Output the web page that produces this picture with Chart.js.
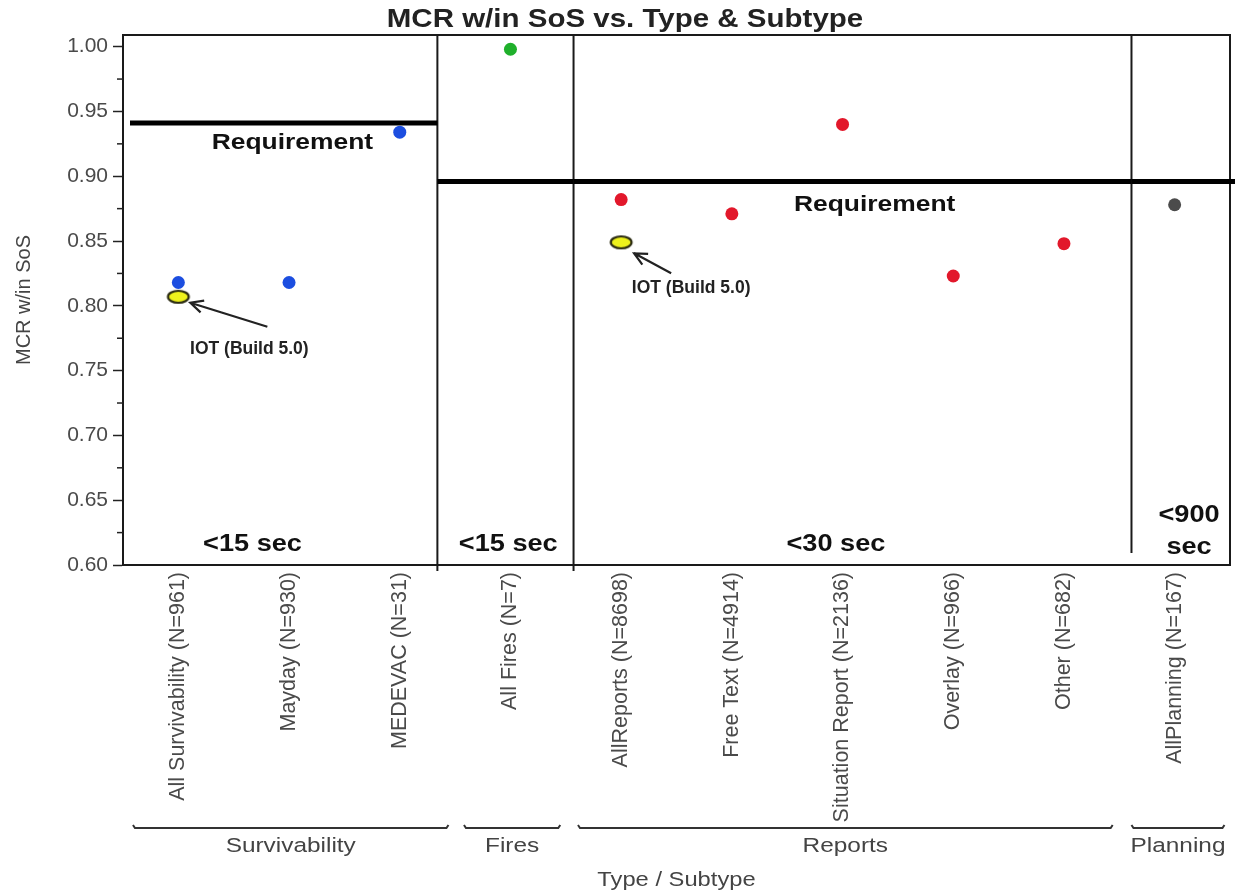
<!DOCTYPE html>
<html>
<head>
<meta charset="utf-8">
<title>MCR w/in SoS vs. Type &amp; Subtype</title>
<script src="https://cdn.jsdelivr.net/npm/chart.js@4.4.1/dist/chart.umd.min.js"></script>
<style>
  html, body { margin: 0; padding: 0; background: #fff; }
  #wrap { width: 1235px; height: 894px; position: relative; }
</style>
</head>
<body>
<div id="wrap"><canvas id="mcrChart"></canvas></div>
<script>
// --- Data ---
const subtypes = [
    'All Survivability (N=961)', 'Mayday (N=930)', 'MEDEVAC (N=31)',
    'All Fires (N=7)',
    'AllReports (N=8698)', 'Free Text (N=4914)', 'Situation Report (N=2136)', 'Overlay (N=966)', 'Other (N=682)',
    'AllPlanning (N=167)'
];
const subtypeType = [
    'Survivability', 'Survivability', 'Survivability',
    'Fires',
    'Reports', 'Reports', 'Reports', 'Reports', 'Reports',
    'Planning'
];
const mcrValues = [0.818, 0.818, 0.934, 0.998, 0.882, 0.871, 0.940, 0.823, 0.848, 0.878];
const iotValues = [0.807, null, null, null, 0.849, null, null, null, null, null];
const types = ['Survivability', 'Fires', 'Reports', 'Planning'];
const typeRequirement = [0.941, 0.896, 0.896, 0.896];
const typeTimeLimit = ['<15 sec', '<15 sec', '<30 sec', '<900 sec'];
const yTickValues = [0.60, 0.65, 0.70, 0.75, 0.80, 0.85, 0.90, 0.95, 1.00];

// --- Look ---
const FONT = '"Liberation Sans", Arial, sans-serif';
const typeColors = ['#1c4ee0', '#1fb02b', '#e2182b', '#4b4b4b'];
// block edges on the category axis (fractional index)
const typeBounds = [[-0.5, 2.34], [2.34, 3.57], [3.57, 8.61], [8.61, 9.5]];
const bracketSpans = [[-0.41, 2.44], [2.58, 3.45], [3.61, 8.44], [8.61, 9.45]];
const timeLabelAt = [0.67, 2.98, 5.94, 9.13];

// yellow ring used for the IOT markers
const iotMarker = document.createElement('canvas');
iotMarker.width = 26;
iotMarker.height = 18;
(() => {
    const m = iotMarker.getContext('2d');
    m.beginPath();
    m.ellipse(13, 9, 10.4, 6, 0, 0, Math.PI * 2);
    m.fillStyle = '#eef21c';
    m.fill();
    m.lineWidth = 2.2;
    m.strokeStyle = '#2a2a10';
    m.stroke();
})();

function stretchText(ctx, text, x, y, size, bold, color, sx) {
    ctx.save();
    ctx.font = `${bold ? 'bold ' : ''}${size}px ${FONT}`;
    ctx.fillStyle = color;
    ctx.textAlign = 'center';
    ctx.textBaseline = 'middle';
    ctx.translate(x, y);
    ctx.scale(sx, 1);
    ctx.fillText(text, 0, 0);
    ctx.restore();
}

function arrow(ctx, x1, y1, x2, y2) {
    const a = Math.atan2(y2 - y1, x2 - x1);
    const len = 14;
    ctx.beginPath();
    ctx.moveTo(x1, y1);
    ctx.lineTo(x2, y2);
    ctx.moveTo(x2 - len * Math.cos(a - 0.45), y2 - len * Math.sin(a - 0.45));
    ctx.lineTo(x2, y2);
    ctx.lineTo(x2 - len * Math.cos(a + 0.45), y2 - len * Math.sin(a + 0.45));
    ctx.stroke();
}

// --- Overlay: frame, block separators, requirement lines, notes ---
const overlayPlugin = {
    id: 'mcrOverlay',
    beforeDatasetsDraw(chart) {
        const { ctx, chartArea: a, scales: { x, y } } = chart;
        ctx.save();
        ctx.strokeStyle = '#1a1a1a';
        ctx.lineWidth = 2;
        ctx.beginPath();
        ctx.moveTo(a.left, a.top);
        ctx.lineTo(a.right, a.top);
        ctx.lineTo(a.right, a.bottom);
        ctx.stroke();

        // separators between the type blocks
        typeBounds.slice(0, -1).forEach(([, end], k) => {
            const px = x.getPixelForValue(end);
            const last = k === typeBounds.length - 2;
            ctx.beginPath();
            ctx.moveTo(px, a.top);
            ctx.lineTo(px, last ? a.bottom - 12 : a.bottom + 6);
            ctx.stroke();
        });

        // requirement levels
        ctx.lineWidth = 5;
        ctx.strokeStyle = '#000';
        typeBounds.forEach(([start, end], k) => {
            const py = y.getPixelForValue(typeRequirement[k]);
            const x0 = k === 0 ? a.left + 7 : x.getPixelForValue(start);
            const x1 = k === typeBounds.length - 1 ? chart.width : x.getPixelForValue(end);
            ctx.beginPath();
            ctx.moveTo(x0, py);
            ctx.lineTo(x1, py);
            ctx.stroke();
        });
        ctx.restore();
    },
    afterDraw(chart) {
        const { ctx, chartArea: a, scales: { x, y } } = chart;
        ctx.save();

        // minor y ticks between the labelled ones
        ctx.strokeStyle = '#222';
        ctx.lineWidth = 1.5;
        y.ticks.slice(1).forEach((t, i) => {
            const py = y.getPixelForValue((t.value + y.ticks[i].value) / 2);
            ctx.beginPath();
            ctx.moveTo(a.left - 6, py);
            ctx.lineTo(a.left, py);
            ctx.stroke();
        });

        // title
        stretchText(ctx, 'MCR w/in SoS vs. Type & Subtype', 625, 20, 25, true, '#222', 1.18);

        // requirement captions
        stretchText(ctx, 'Requirement', x.getPixelForValue(1.03), y.getPixelForValue(typeRequirement[0]) + 20, 22, true, '#111', 1.2);
        stretchText(ctx, 'Requirement', x.getPixelForValue(6.29), y.getPixelForValue(typeRequirement[2]) + 24, 22, true, '#111', 1.2);

        // time limits, wrapped when the block is too narrow
        typeTimeLimit.forEach((txt, k) => {
            const cx = x.getPixelForValue(timeLabelAt[k]);
            const blockW = Math.min(x.getPixelForValue(typeBounds[k][1]), a.right) - Math.max(x.getPixelForValue(typeBounds[k][0]), a.left);
            ctx.font = `bold 23px ${FONT}`;
            if (ctx.measureText(txt).width * 1.18 > blockW - 10) {
                const words = txt.split(' ');
                stretchText(ctx, words[0], cx, a.bottom - 49, 23, true, '#111', 1.18);
                stretchText(ctx, words[1], cx, a.bottom - 17, 23, true, '#111', 1.18);
            } else {
                stretchText(ctx, txt, cx, a.bottom - 20, 23, true, '#111', 1.18);
            }
        });

        // IOT notes with arrows
        const iotMeta = chart.getDatasetMeta(chart.data.datasets.length - 1);
        const notes = [
            { tip: [12, 6], tail: [89, 30], text: [71, 52] },
            { tip: [13, 11], tail: [50, 31], text: [70, 46] }
        ];
        let n = 0;
        iotMeta.data.forEach((pt, i) => {
            if (iotValues[i] == null || !notes[n]) return;
            const o = notes[n++];
            ctx.strokeStyle = '#222';
            ctx.lineWidth = 2.2;
            arrow(ctx, pt.x + o.tail[0], pt.y + o.tail[1], pt.x + o.tip[0], pt.y + o.tip[1]);
            stretchText(ctx, 'IOT (Build 5.0)', pt.x + o.text[0], pt.y + o.text[1], 17.5, true, '#222', 1.0);
        });

        // type brackets under the subtype labels
        ctx.strokeStyle = '#333';
        ctx.lineWidth = 2;
        const by = a.bottom + 263;
        bracketSpans.forEach(([s, e], k) => {
            const x0 = x.getPixelForValue(s);
            const x1 = x.getPixelForValue(e);
            ctx.beginPath();
            ctx.moveTo(x0, by - 3);
            ctx.lineTo(x0 + 2, by);
            ctx.lineTo(x1 - 2, by);
            ctx.lineTo(x1, by - 3);
            ctx.stroke();
            stretchText(ctx, types[k], (x0 + x1) / 2, by + 18, 20.5, false, '#444', 1.19);
        });

        stretchText(ctx, 'Type / Subtype', (a.left + a.right) / 2, chart.height - 14, 21, false, '#444', 1.13);
        ctx.restore();
    }
};

const pointSets = types.map((t, k) => ({
    label: t,
    data: mcrValues.map((v, i) => (subtypeType[i] === t ? v : null)),
    showLine: false,
    pointRadius: 6.5,
    pointHoverRadius: 6.5,
    pointBackgroundColor: typeColors[k],
    pointBorderColor: typeColors[k],
    pointBorderWidth: 0
}));
pointSets.push({
    label: 'IOT (Build 5.0)',
    data: iotValues,
    showLine: false,
    pointStyle: iotMarker,
    pointRadius: 10,
    pointHoverRadius: 10
});

new Chart(document.getElementById('mcrChart'), {
    type: 'line',
    data: { labels: subtypes, datasets: pointSets },
    options: {
        responsive: true,
        maintainAspectRatio: false,
        animation: false,
        devicePixelRatio: 1,
        layout: { autoPadding: false, padding: { top: 35, right: 5, left: 0, bottom: 0 } },
        plugins: {
            legend: { display: false },
            tooltip: { enabled: false },
            title: { display: false }
        },
        scales: {
            x: {
                type: 'category',
                offset: true,
                grid: { display: false, drawTicks: false },
                border: { display: true, color: '#1a1a1a', width: 2 },
                ticks: {
                    autoSkip: false, minRotation: 90, maxRotation: 90, padding: 7,
                    color: '#4a4a4a', font: { family: FONT, size: 21.5 }
                },
                afterFit: s => { s.height = 329; s.paddingLeft = 0; s.paddingRight = 0; }
            },
            y: {
                min: 0.6,
                max: 1.009,
                afterBuildTicks: s => { s.ticks = yTickValues.map(v => ({ value: v })); },
                grid: { drawOnChartArea: false, tickLength: 10, color: '#222', tickColor: '#222', tickWidth: 1.5 },
                border: { display: true, color: '#1a1a1a', width: 2 },
                ticks: {
                    padding: 5, color: '#4a4a4a', font: { family: FONT, size: 21 },
                    callback: v => Number(v).toFixed(2)
                },
                title: {
                    display: true, text: 'MCR w/in SoS', color: '#444',
                    font: { family: FONT, size: 20 }, padding: { top: 12, bottom: 0 }
                },
                afterFit: s => { s.width = 123; s.paddingTop = 0; s.paddingBottom = 0; }
            }
        }
    },
    plugins: [overlayPlugin]
});
</script>
</body>
</html>
